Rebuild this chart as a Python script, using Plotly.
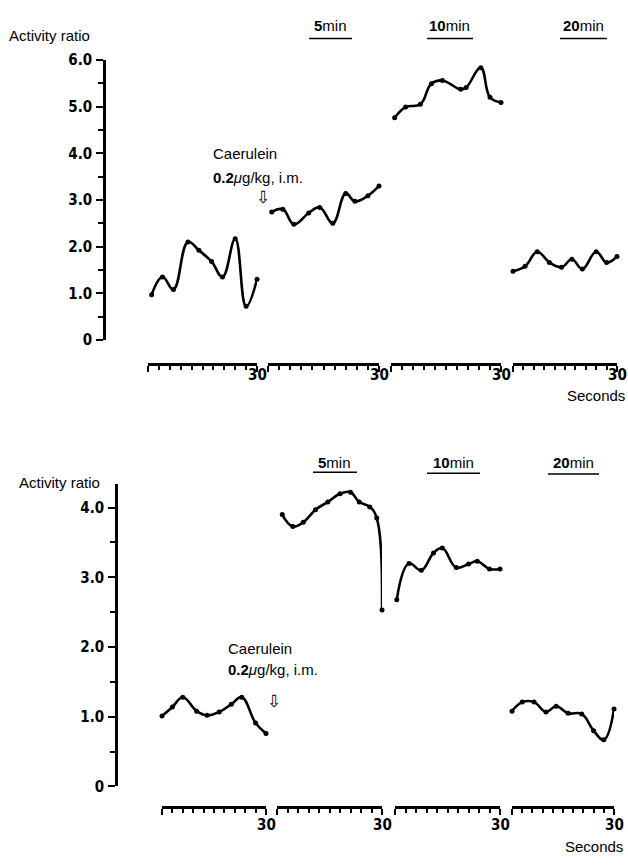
import plotly.graph_objects as go

W, H = 628, 865

# ---------------- data ----------------
# Top experiment: four 30-second recordings (before, 5 min, 10 min, 20 min)
top_t1 = [1, 4, 7, 11, 14, 17.5, 20.5, 24, 27, 30]
top_v1 = [0.97, 1.35, 1.08, 2.10, 1.92, 1.68, 1.35, 2.17, 0.72, 1.30]
top_t2 = [1, 4, 7, 11, 14, 17.5, 21, 23.5, 27, 30]
top_v2 = [2.74, 2.80, 2.48, 2.72, 2.84, 2.50, 3.14, 2.97, 3.09, 3.30]
top_t3 = [1, 4, 8, 11, 14, 19, 20.5, 24.5, 27, 30]
top_v3 = [4.76, 4.99, 5.05, 5.49, 5.56, 5.37, 5.41, 5.83, 5.20, 5.09]
top_t4 = [0, 3.5, 7, 10.5, 14, 17, 20, 24, 27, 30]
top_v4 = [1.47, 1.58, 1.89, 1.66, 1.56, 1.73, 1.52, 1.89, 1.66, 1.79]

# Bottom experiment
bot_t1 = [0, 3, 6, 10, 13, 16.5, 20, 23, 27, 30]
bot_v1 = [1.01, 1.14, 1.28, 1.08, 1.02, 1.07, 1.18, 1.28, 0.91, 0.76]
bot_t2 = [1.5, 4.5, 7.5, 11, 14.5, 18, 21, 23.5, 26.5, 28.5, 30]
bot_v2 = [3.90, 3.73, 3.79, 3.97, 4.08, 4.20, 4.22, 4.08, 4.01, 3.85, 2.53]
bot_t3 = [0.5, 4, 7.5, 11, 13.5, 17.5, 21, 23.5, 27, 30]
bot_v3 = [2.68, 3.20, 3.10, 3.35, 3.42, 3.14, 3.19, 3.23, 3.12, 3.12]
bot_t4 = [0, 3, 6.5, 10, 13, 16.5, 20.5, 24, 27, 30]
bot_v4 = [1.08, 1.21, 1.21, 1.07, 1.15, 1.05, 1.04, 0.80, 0.67, 1.11]

top_ticks = [0, 1, 2, 3, 4, 5, 6]
top_ticktext = ["0", "1.0", "2.0", "3.0", "4.0", "5.0", "6.0"]
bot_ticks = [0, 1, 2, 3, 4]
bot_ticktext = ["0", "1.0", "2.0", "3.0", "4.0"]
x_minor = [3, 6, 9, 12, 15, 18, 21, 24, 27]
x_end_label = "30"
period_labels = ["<b>5</b>min", "<b>10</b>min", "<b>20</b>min"]

# ---------------- helpers ----------------
def px(x):
    return x / W

def py(y):
    return 1 - y / H

TICKFONT = dict(family="Liberation Sans Narrow, DejaVu Sans Condensed, Arial Narrow, Liberation Sans, sans-serif",
                size=15, color="black", weight="bold")
TXTFONT = dict(family="Liberation Sans, Arial, sans-serif", size=15, color="black")

fig = go.Figure()

top_sets = [(top_t1, top_v1), (top_t2, top_v2), (top_t3, top_v3), (top_t4, top_v4)]
bot_sets = [(bot_t1, bot_v1), (bot_t2, bot_v2), (bot_t3, bot_v3), (bot_t4, bot_v4)]
top_xref = ["x", "x2", "x3", "x4"]
bot_xref = ["x5", "x6", "x7", "x8"]

LINE = dict(color="black", width=2.6, shape="spline", smoothing=1.2)
for xr, (t, v) in zip(top_xref, top_sets):
    fig.add_trace(go.Scatter(x=t, y=v, xaxis=xr, yaxis="y",
                             mode="lines+markers", line=LINE,
                             marker=dict(color="black", size=5), cliponaxis=False, showlegend=False))
for xr, (t, v) in zip(bot_xref, bot_sets):
    fig.add_trace(go.Scatter(x=t, y=v, xaxis=xr, yaxis="y2",
                             mode="lines+markers", line=LINE,
                             marker=dict(color="black", size=5), cliponaxis=False, showlegend=False))

def xaxis_cfg(x0, x1, ypos):
    return dict(domain=[px(x0), px(x1)], range=[0, 30], anchor="free", position=py(ypos),
                showline=True, linewidth=2.5, linecolor="black", mirror=False,
                ticks="outside", tickvals=[0, 30], ticklen=6, tickwidth=1.5,
                tickcolor="black", showticklabels=False,
                minor=dict(tickvals=x_minor, ticks="outside", ticklen=4, tickwidth=1.5, tickcolor="black"),
                showgrid=False, zeroline=False, fixedrange=True)

def yaxis_cfg(y0, y1, rng, xpos, tv, tt):
    return dict(domain=[py(y0), py(y1)], range=rng, anchor="free", position=px(xpos),
                showline=True, linewidth=2.5, linecolor="black",
                ticks="outside", tickvals=tv, ticktext=tt, ticklen=7, tickwidth=1.5, tickcolor="black",
                minor=dict(dtick=0.5, tick0=0, ticks="outside", ticklen=5, tickwidth=1.5, tickcolor="black"),
                showgrid=False, zeroline=False, tickfont=TICKFONT, ticklabelstandoff=1,
                fixedrange=True)

top_segs = [(148, 257), (268, 379), (391, 501), (513, 617)]
bot_segs = [(162, 266), (277, 382), (395, 500), (512, 614)]

layout = dict(width=W, height=H, margin=dict(l=0, r=0, t=0, b=0),
              paper_bgcolor="white", plot_bgcolor="white", showlegend=False)
for i, (a, b) in enumerate(top_segs):
    key = "xaxis" if i == 0 else f"xaxis{i+1}"
    layout[key] = xaxis_cfg(a, b, 363)
for i, (a, b) in enumerate(bot_segs):
    layout[f"xaxis{i+5}"] = xaxis_cfg(a, b, 815)
layout["yaxis"] = yaxis_cfg(338, 52, [0, 6], 104, top_ticks, top_ticktext)
layout["yaxis2"] = yaxis_cfg(794, 485, [0, 4.34], 116, bot_ticks, bot_ticktext)
fig.update_layout(**layout)

anns = []
def ann(text, x, y, xanchor="left", font=TXTFONT):
    anns.append(dict(text=text, x=px(x), y=py(y), xref="paper", yref="paper",
                     xanchor=xanchor, yanchor="middle", showarrow=False, font=font))

# "30" end labels of every 30-second scale, placed on each x axis
for xr in top_xref:
    anns.append(dict(text=x_end_label, x=30, xref=xr, y=py(374), yref="paper",
                     xanchor="center", yanchor="middle", showarrow=False, font=TICKFONT))
for xr in bot_xref:
    anns.append(dict(text=x_end_label, x=30, xref=xr, y=py(833), yref="paper",
                     xanchor="center", yanchor="middle", showarrow=False, font=TICKFONT))

ann("Activity ratio", 7, 27)
ann("Activity ratio", 17, 484)
ann("Seconds", 627, 395, xanchor="right")
ann("Seconds", 625, 855, xanchor="right")

for lab, cx in zip(period_labels, [330, 450, 583]):
    ann(lab, cx, 17, xanchor="center")
for lab, cx in zip(period_labels, [334, 453, 573]):
    ann(lab, cx, 463, xanchor="center")

ARROWFONT = dict(family="DejaVu Sans", size=17, color="black")
ann("Caerulein", 211, 148)
ann("<b>0.2</b><i>μ</i>g/kg, i.m.", 211, 172)
ann("⇩", 263, 192, xanchor="center", font=ARROWFONT)
ann("Caerulein", 226, 653)
ann("<b>0.2</b><i>μ</i>g/kg, i.m.", 226, 675)
ann("⇩", 274, 707, xanchor="center", font=ARROWFONT)
fig.update_layout(annotations=anns)

shapes = []
for (a, b, yy) in [(309, 352, 30), (427, 473, 30), (560, 607, 30),
                   (313, 357, 473), (427, 480, 474), (548, 599, 475)]:
    shapes.append(dict(type="line", xref="paper", yref="paper", x0=px(a), x1=px(b),
                       y0=py(yy), y1=py(yy), line=dict(color="black", width=1.5)))
fig.update_layout(shapes=shapes)

fig.write_html("out.html")
